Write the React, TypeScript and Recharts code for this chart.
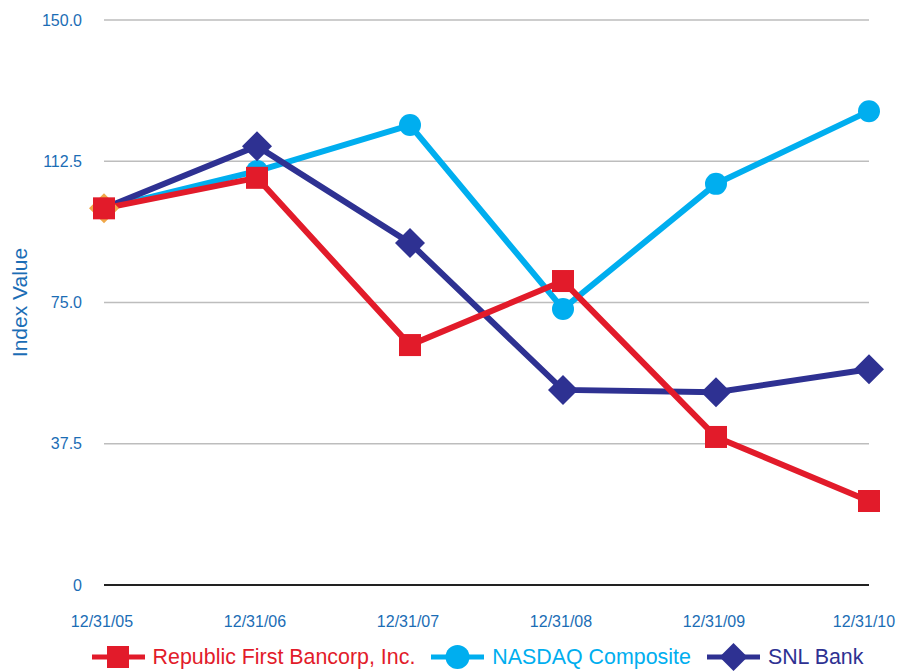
import { CartesianGrid, Legend, Line, LineChart, XAxis, YAxis } from 'recharts';

const dates = ['12/31/05', '12/31/06', '12/31/07', '12/31/08', '12/31/09', '12/31/10'];
const republic = [100, 108.1, 63.7, 80.7, 39.3, 22.3];
const nasdaq = [100, 109.9, 122.1, 73.3, 106.5, 125.8];
const snl = [100, 116.5, 90.8, 51.8, 51.2, 57.3];
const yTicks = [0, 37.5, 75, 112.5, 150];

const RED = '#e21b2a';
const CYAN = '#00aeef';
const NAVY = '#2e3192';
const ORANGE = '#f0a84a';
const TICK = '#1b6db5';
const FONT = '"Liberation Sans", Arial, Helvetica, sans-serif';

const rows = dates.map((d, i) => ({
  date: d,
  republic: republic[i],
  nasdaq: nasdaq[i],
  snl: snl[i],
}));

function squareDot(p: any) {
  if (p.cx == null || p.cy == null) return <g key={p.key} />;
  return <rect key={p.key} x={p.cx - 11} y={p.cy - 11} width={22} height={22} fill={RED} />;
}
function circleDot(p: any) {
  if (p.cx == null || p.cy == null) return <g key={p.key} />;
  return <circle key={p.key} cx={p.cx} cy={p.cy} r={11} fill={CYAN} />;
}
// first SNL marker shows up orange in the source chart
function diamondDot(p: any) {
  if (p.cx == null || p.cy == null) return <g key={p.key} />;
  const { cx, cy } = p;
  const r = 15;
  const fill = p.index === 0 ? ORANGE : NAVY;
  return <path key={p.key} d={`M${cx},${cy - r}L${cx + r},${cy}L${cx},${cy + r}L${cx - r},${cy}Z`} fill={fill} />;
}

// last label sits a bit left so it stays inside the frame
function DateTick(p: any) {
  const last = p.index === dates.length - 1;
  return (
    <text
      x={p.x + (last ? -5 : -2)}
      y={p.y + 40}
      textAnchor="middle"
      fill={TICK}
      fontSize={16}
      fontFamily={FONT}
    >
      {p.payload.value}
    </text>
  );
}

const legendItems = [
  { name: 'Republic First Bancorp, Inc.', color: RED, shape: 'square' },
  { name: 'NASDAQ Composite', color: CYAN, shape: 'circle' },
  { name: 'SNL Bank', color: NAVY, shape: 'diamond' },
];

function LegendIcon({ color, shape }: { color: string; shape: string }) {
  return (
    <svg width={53} height={28} style={{ display: 'block' }}>
      <rect x={0} y={11.5} width={53} height={5} fill={color} />
      {shape === 'square' && <rect x={15} y={3} width={22} height={22} fill={color} />}
      {shape === 'circle' && <circle cx={26.5} cy={14} r={12} fill={color} />}
      {shape === 'diamond' && <path d="M26.5,0L40.5,14L26.5,28L12.5,14Z" fill={color} />}
    </svg>
  );
}

function CustomLegend() {
  return (
    <div
      style={{
        display: 'flex',
        justifyContent: 'center',
        alignItems: 'center',
        fontFamily: FONT,
        fontSize: 21.4,
        gap: 16,
        paddingTop: 14,
        paddingLeft: 86,
      }}
    >
      {legendItems.map((it) => (
        <div key={it.name} style={{ display: 'flex', alignItems: 'center', gap: 8, color: it.color }}>
          <LegendIcon color={it.color} shape={it.shape} />
          <span>{it.name}</span>
        </div>
      ))}
    </div>
  );
}

export default function App() {
  return (
    <div style={{ position: 'absolute', left: 0, top: 0, width: 899, height: 671, background: '#fff' }}>
      <LineChart width={899} height={671} data={rows} margin={{ top: 20, right: 30, left: 0, bottom: 0 }}>
        <CartesianGrid stroke="#bdbdbd" strokeWidth={1.5} vertical={false} />
        <XAxis
          dataKey="date"
          axisLine={{ stroke: '#222', strokeWidth: 2 }}
          tickLine={false}
          tickSize={0}
          height={44}
          interval={0}
          tick={DateTick}
        />
        <YAxis
          domain={[0, 150]}
          ticks={yTicks}
          tickFormatter={(v: number) => (v === 0 ? '0' : v.toFixed(1))}
          axisLine={false}
          tickLine={false}
          tickSize={0}
          tickMargin={22}
          width={104}
          tick={{ fill: TICK, fontSize: 16, fontFamily: FONT }}
          label={{
            value: 'Index Value',
            angle: -90,
            position: 'insideLeft',
            offset: 20,
            style: { fill: TICK, fontSize: 21, fontFamily: FONT, textAnchor: 'middle' },
          }}
        />
        <Legend verticalAlign="bottom" height={42} content={() => <CustomLegend />} />
        <Line
          dataKey="nasdaq"
          stroke={CYAN}
          strokeWidth={6}
          dot={circleDot}
          activeDot={false}
          isAnimationActive={false}
        />
        <Line
          dataKey="snl"
          stroke={NAVY}
          strokeWidth={6}
          dot={diamondDot}
          activeDot={false}
          isAnimationActive={false}
        />
        <Line
          dataKey="republic"
          stroke={RED}
          strokeWidth={6}
          dot={squareDot}
          activeDot={false}
          isAnimationActive={false}
        />
      </LineChart>
    </div>
  );
}
